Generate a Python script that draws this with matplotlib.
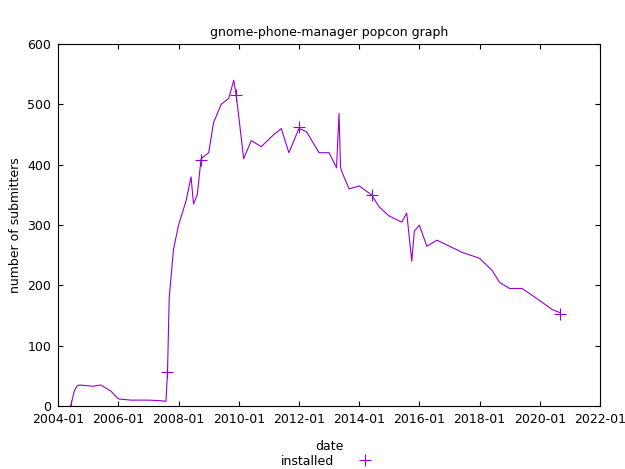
import matplotlib
matplotlib.use('Agg')
import matplotlib.pyplot as plt
import matplotlib.dates as mdates
import numpy as np

dates = ['2004-06-01','2004-07-15','2004-08-15','2004-09-15','2005-03-01','2005-06-01','2005-08-01',
         '2005-10-01','2006-01-01','2006-06-01','2007-01-01','2007-06-01','2007-08-01','2007-08-20',
         '2007-09-10','2007-11-01','2008-01-01','2008-04-01','2008-06-01','2008-07-01','2008-08-15',
         '2008-10-01','2009-01-01','2009-03-01','2009-06-01','2009-09-01','2009-11-01','2009-12-01',
         '2010-01-01','2010-03-01','2010-06-01','2010-10-01','2011-03-01','2011-06-01','2011-09-01',
         '2012-01-01','2012-04-01','2012-09-01','2013-01-01','2013-04-01','2013-05-01','2013-05-20',
         '2013-06-15','2013-09-01','2014-01-01','2014-06-01','2014-09-01','2015-01-01','2015-06-01',
         '2015-08-01','2015-10-01','2015-11-01','2016-01-01','2016-04-01','2016-08-01','2017-01-01',
         '2017-06-01','2018-01-01','2018-06-01','2018-09-01','2019-01-01','2019-06-01','2020-01-01',
         '2020-06-01','2020-09-01']
installed = [0, 25, 33, 35, 33, 35, 30, 25, 12, 10, 10, 9, 8, 55,
             180, 260, 300, 340, 380, 335, 350, 410, 420, 470, 500, 510, 540, 515,
             480, 410, 440, 430, 450, 460, 420, 460, 455, 420, 420, 395, 485, 395,
             385, 360, 365, 350, 330, 315, 305, 320, 240, 290, 300, 265, 275, 265,
             255, 245, 225, 205, 195, 195, 175, 160, 155]
mark_dates = ['2004-06-01','2007-08-20','2008-10-01','2009-12-01','2012-01-01','2014-06-01','2020-09-01']
mark_vals = [0, 57, 408, 515, 462, 350, 152]

x = np.array(dates, dtype='datetime64[D]')
mx = np.array(mark_dates, dtype='datetime64[D]')
c = '#9400D3'

fig = plt.figure(figsize=(6.25, 4.69), dpi=100)
ax = fig.add_axes([0.093, 0.134, 0.867, 0.772])
ax.plot(x, installed, color=c, lw=0.8)
ax.plot(mx, mark_vals, '+', color=c, ms=9, mew=0.8, label='installed')
ax.set_xlim(np.datetime64('2004-01-01'), np.datetime64('2022-01-01'))
ax.set_ylim(0, 600)
ax.xaxis.set_major_locator(mdates.YearLocator(2))
ax.xaxis.set_major_formatter(mdates.DateFormatter('%Y-%m'))
ax.tick_params(direction='in', top=True, right=True, labelsize=9, pad=5)
ax.set_title('gnome-phone-manager popcon graph', fontsize=9)
ax.set_ylabel('number of submitters', fontsize=9)
ax.set_xlabel('date', fontsize=9, labelpad=10)
ax.legend(loc='upper center', bbox_to_anchor=(0.5, -0.11), frameon=False,
          markerfirst=False, fontsize=9, handletextpad=1.5, borderpad=0.2)
fig.savefig('out.png', dpi=100)
